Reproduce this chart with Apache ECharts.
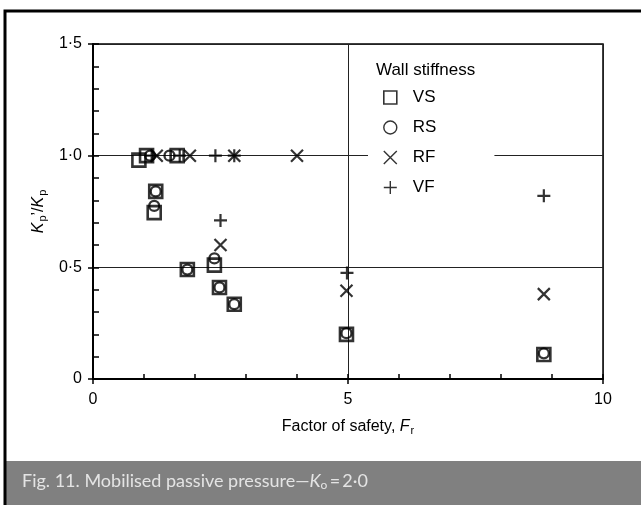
<!DOCTYPE html>
<html>
<head>
<meta charset="utf-8">
<script src="https://cdn.jsdelivr.net/npm/echarts@6/dist/echarts.min.js"></script>
<style>
html, body { margin: 0; padding: 0; background: #fff; }
#chart { width: 641px; height: 515px; }
</style>
</head>
<body>
<div id="chart"></div>
<script>
// points are [factor of safety Fr, Kp'/Kp]
const vsPoints = [[0.9, 0.98], [1.05, 1.0], [1.65, 1.0], [1.23, 0.84], [1.2, 0.745], [2.38, 0.51],
  [1.85, 0.49], [2.48, 0.41], [2.77, 0.335], [4.97, 0.2], [8.84, 0.11]]
const rsPoints = [[1.12, 1.0], [1.5, 1.0], [1.23, 0.84], [1.2, 0.775], [2.38, 0.54], [1.85, 0.49],
  [2.48, 0.41], [2.77, 0.335], [4.97, 0.205], [8.84, 0.115]]
const rfPoints = [[1.25, 1.0], [1.9, 1.0], [2.77, 1.0], [4.0, 1.0], [2.5, 0.6], [4.97, 0.395], [8.84, 0.38]]
const vfPoints = [[1.15, 1.0], [1.7, 1.0], [2.4, 1.0], [2.77, 1.0], [2.5, 0.71], [4.98, 0.475], [8.84, 0.82]]

const seriesNames = ['VS', 'RS', 'RF', 'VF']
const xTickValues = [0, 5, 10]
const xTickLabels = ['0', '5', '10']
const yTickValues = [0, 0.5, 1, 1.5]
const yTickLabels = ['0', '0·5', '1·0', '1·5']

const FONT = 'Liberation Sans'
const crossPath = 'path://M0,0L10,10M10,0L0,10'
const plusPath = 'path://M5,0L5,10M0,5L10,5'

const pickLabel = (values, labels) => (v) => {
  const i = values.findIndex(t => Math.abs(t - v) < 1e-6)
  return i < 0 ? '' : labels[i]
}

const subRich = {
  i: { fontFamily: FONT, fontSize: 16, fontStyle: 'italic', color: '#000' },
  sub: { fontFamily: FONT, fontSize: 11, color: '#000', padding: [8, 0, 0, 1] },
  n: { fontFamily: FONT, fontSize: 16, color: '#000' }
}

const chart = echarts.init(document.getElementById('chart'), null, { renderer: 'canvas' })

const hollow = { color: 'rgba(0,0,0,0)', borderColor: '#000' }

const option = {
  backgroundColor: '#fff',
  animation: false,
  title: {
    text: 'Wall stiffness',
    left: 371,
    top: 57,
    textStyle: { fontFamily: FONT, fontSize: 17, fontWeight: 'normal', color: '#000' }
  },
  legend: {
    orient: 'vertical',
    left: 368,
    top: 80,
    padding: [9, 58, 9, 15],
    backgroundColor: '#fff',
    itemWidth: 13,
    itemHeight: 13,
    itemGap: 13,
    textStyle: { fontFamily: FONT, fontSize: 17, color: '#000', padding: [0, 0, 0, 11] },
    data: [
      { name: 'VS', icon: 'rect', itemStyle: { ...hollow, borderWidth: 1.6 } },
      { name: 'RS', icon: 'circle', itemStyle: { ...hollow, borderWidth: 1.4 } },
      { name: 'RF', icon: crossPath, itemStyle: { ...hollow, borderWidth: 1.4 } },
      { name: 'VF', icon: plusPath, itemStyle: { ...hollow, borderWidth: 1.4 } }
    ]
  },
  grid: {
    left: 93, right: 38, top: 44, bottom: 136,
    show: true, borderColor: '#000', borderWidth: 1.5, backgroundColor: 'transparent'
  },
  xAxis: [
    {
      type: 'value', min: 0, max: 10, interval: 5,
      name: 'Factor of safety, {i|F}{sub|r}',
      nameLocation: 'middle', nameGap: 38,
      nameTextStyle: { fontFamily: FONT, fontSize: 16, color: '#000', rich: subRich },
      axisLine: { lineStyle: { color: '#000', width: 2 } },
      axisTick: { inside: false, length: 5, lineStyle: { color: '#000', width: 1.5 } },
      axisLabel: {
        margin: 13, fontFamily: FONT, fontSize: 16, color: '#000',
        formatter: pickLabel(xTickValues, xTickLabels)
      },
      splitLine: { show: true, lineStyle: { color: '#222', width: 1 } }
    },
    {
      type: 'value', min: 0, max: 10, interval: 1, position: 'bottom',
      axisLine: { show: false },
      axisTick: { inside: true, length: 5, lineStyle: { color: '#000', width: 1.5 } },
      axisLabel: { show: false },
      splitLine: { show: false }
    }
  ],
  yAxis: [
    {
      type: 'value', min: 0, max: 1.5, interval: 0.5,
      name: '{i|K}{sub|p}{n|\u2019/}{i|K}{sub|p}',
      nameLocation: 'middle', nameGap: 34, nameRotate: 90,
      nameTextStyle: { fontFamily: FONT, fontSize: 16, color: '#000', rich: subRich },
      axisLine: { lineStyle: { color: '#000', width: 2 } },
      axisTick: { inside: false, length: 5, lineStyle: { color: '#000', width: 1.5 } },
      axisLabel: {
        margin: 11, fontFamily: FONT, fontSize: 16, color: '#000',
        formatter: pickLabel(yTickValues, yTickLabels)
      },
      splitLine: { show: true, lineStyle: { color: '#222', width: 1 } }
    },
    {
      type: 'value', min: 0, max: 1.5, interval: 0.1, position: 'left',
      axisLine: { show: false },
      axisTick: { inside: true, length: 6, lineStyle: { color: '#000', width: 1.5 } },
      axisLabel: { show: false },
      splitLine: { show: false }
    }
  ],
  series: [
    {
      name: seriesNames[0], type: 'scatter', data: vsPoints,
      symbol: 'rect', symbolSize: 13,
      itemStyle: { ...hollow, borderWidth: 2.6 }
    },
    {
      name: seriesNames[1], type: 'scatter', data: rsPoints,
      symbol: 'circle', symbolSize: 10,
      itemStyle: { ...hollow, borderWidth: 2.3 }
    },
    {
      name: seriesNames[2], type: 'scatter', data: rfPoints,
      symbol: crossPath, symbolSize: 12,
      itemStyle: { ...hollow, borderWidth: 2.2 }
    },
    {
      name: seriesNames[3], type: 'scatter', data: vfPoints,
      symbol: plusPath, symbolSize: 13,
      itemStyle: { ...hollow, borderWidth: 2.2 }
    }
  ],
  graphic: [
    {
      type: 'rect', z: 10,
      shape: { x: 5, y: 461, width: 650, height: 44 },
      style: { fill: '#808080' }
    },
    {
      type: 'polyline', z: 11,
      shape: { points: [[660, 11], [5, 11], [5, 505]] },
      style: { stroke: '#000', lineWidth: 3, fill: null }
    },
    {
      type: 'text', z: 12, left: 22, top: 472,
      style: {
        text: 'Fig. 11. Mobilised passive pressure\u2014{i|K}{sub|o}{n|\u2009=\u20092·0}',
        fontFamily: 'Lato', fontSize: 18, fill: '#e4e4e4',
        rich: {
          i: { fontFamily: 'Lato', fontSize: 18, fontStyle: 'italic', color: '#e4e4e4' },
          sub: { fontFamily: 'Lato', fontSize: 12, color: '#e4e4e4', padding: [8, 0, 0, 0] },
          n: { fontFamily: 'Lato', fontSize: 18, color: '#e4e4e4' }
        }
      }
    }
  ]
}

chart.setOption(option)
window.addEventListener('resize', () => chart.resize())
</script>
</body>
</html>
